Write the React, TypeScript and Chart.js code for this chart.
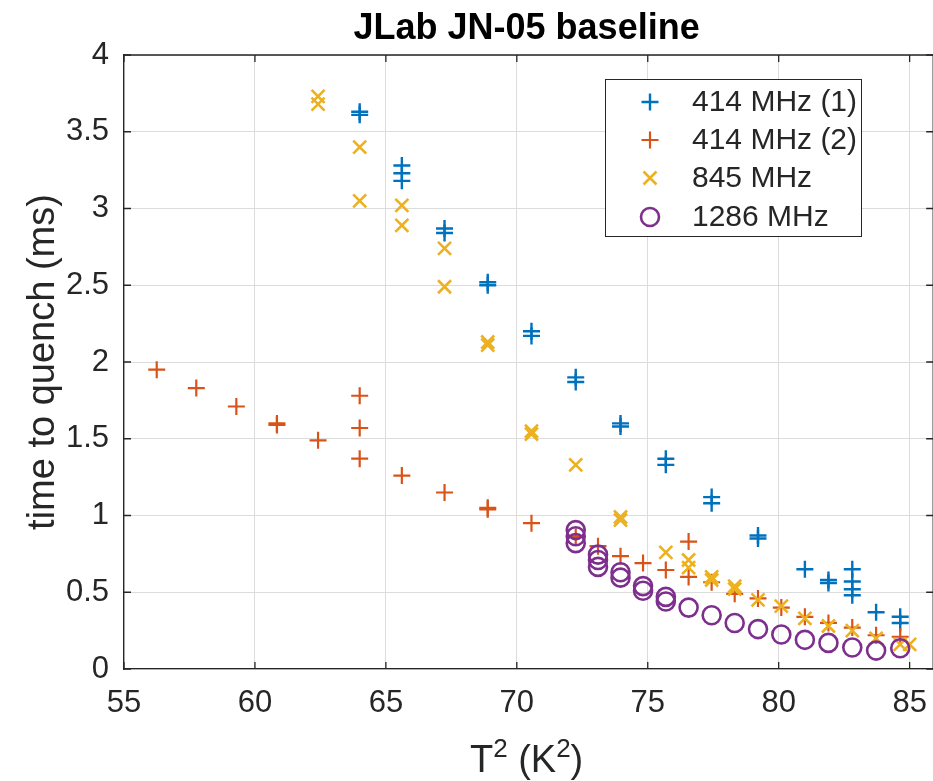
import React, { useEffect, useRef } from "react";
import { Chart, registerables } from "chart.js";

Chart.register(...registerables);

// ---------- data ----------
const chartTitle = "JLab JN-05 baseline";
const yAxisTitle = "time to quench (ms)";
const seriesLabels = ["414 MHz (1)", "414 MHz (2)", "845 MHz", "1286 MHz"];
const seriesColors = ["#0072BD", "#D95319", "#EDB120", "#7E2F8E"];

const xTicks = [55, 60, 65, 70, 75, 80, 85];
const xTickLabels = ["55", "60", "65", "70", "75", "80", "85"];
const yTicks = [0, 0.5, 1, 1.5, 2, 2.5, 3, 3.5, 4];
const yTickLabels = ["0", "0.5", "1", "1.5", "2", "2.5", "3", "3.5", "4"];

const blueX = [64.0, 64.0, 65.61, 65.61, 65.61, 67.24, 67.24, 68.89, 68.89, 70.56, 70.56, 72.25, 72.25, 73.96, 73.96, 75.69, 75.69, 77.44, 77.44, 79.21, 79.21, 81.0, 81.9, 81.9, 82.81, 82.81, 82.81, 82.81, 83.72, 84.64, 84.64];
const blueY = [3.63, 3.61, 3.28, 3.23, 3.18, 2.87, 2.84, 2.52, 2.5, 2.2, 2.17, 1.9, 1.87, 1.6, 1.58, 1.37, 1.33, 1.12, 1.08, 0.87, 0.85, 0.65, 0.58, 0.56, 0.65, 0.57, 0.52, 0.48, 0.37, 0.34, 0.3];

const orangeX = [56.25, 57.76, 59.29, 60.84, 60.84, 62.41, 64.0, 64.0, 64.0, 65.61, 67.24, 68.89, 68.89, 70.56, 72.25, 73.1, 73.96, 74.82, 75.69, 76.56, 76.56, 77.44, 78.32, 79.21, 80.1, 81.0, 81.9, 82.81, 83.72, 84.64];
const orangeY = [1.95, 1.83, 1.71, 1.6, 1.59, 1.49, 1.78, 1.57, 1.37, 1.26, 1.15, 1.05, 1.04, 0.95, 0.86, 0.8, 0.735, 0.69, 0.645, 0.83, 0.6, 0.565, 0.49, 0.46, 0.4, 0.34, 0.3, 0.27, 0.22, 0.21];

const yellowX = [62.41, 62.41, 64.0, 64.0, 65.61, 65.61, 67.24, 67.24, 68.89, 68.89, 70.56, 70.56, 72.25, 73.96, 73.96, 75.69, 76.56, 76.56, 77.44, 77.44, 78.32, 78.32, 79.21, 80.1, 81.0, 81.9, 82.81, 83.72, 84.64, 85.0];
const yellowY = [3.73, 3.68, 3.4, 3.05, 3.02, 2.89, 2.74, 2.49, 2.13, 2.11, 1.55, 1.53, 1.33, 0.99, 0.97, 0.76, 0.71, 0.66, 0.6, 0.58, 0.54, 0.52, 0.45, 0.41, 0.33, 0.28, 0.25, 0.2, 0.16, 0.16];

const purpleX = [72.25, 72.25, 72.25, 73.1, 73.1, 73.1, 73.96, 73.96, 74.82, 74.82, 75.69, 75.69, 76.56, 77.44, 78.32, 79.21, 80.1, 81.0, 81.9, 82.81, 83.72, 84.64];
const purpleY = [0.905, 0.865, 0.82, 0.745, 0.71, 0.665, 0.63, 0.595, 0.54, 0.51, 0.47, 0.44, 0.4, 0.35, 0.3, 0.26, 0.225, 0.19, 0.17, 0.14, 0.12, 0.135];

// ---------- styling ----------
const FONT = '"Liberation Sans", Arial, Helvetica, sans-serif';
const INK = "#262626";
const GRID = "#dcdcdc";

const pts = (xs: number[], ys: number[]) => xs.map((x, i) => ({ x, y: ys[i] }));

const markerStyles = ["cross", "cross", "crossRot", "circle"];
const markerRadius = [8.5, 8.5, 9.2, 9];
const markerWidth = [2.4, 2.2, 2.6, 2.6];

function drawMarker(ctx: CanvasRenderingContext2D, style: string, x: number, y: number, r: number, color: string, lw: number) {
  ctx.save();
  ctx.strokeStyle = color;
  ctx.lineWidth = lw;
  ctx.beginPath();
  if (style === "cross") {
    ctx.moveTo(x - r, y);
    ctx.lineTo(x + r, y);
    ctx.moveTo(x, y - r);
    ctx.lineTo(x, y + r);
  } else if (style === "crossRot") {
    const d = r * Math.SQRT1_2;
    ctx.moveTo(x - d, y - d);
    ctx.lineTo(x + d, y + d);
    ctx.moveTo(x - d, y + d);
    ctx.lineTo(x + d, y - d);
  } else {
    ctx.arc(x, y, r, 0, Math.PI * 2);
  }
  ctx.stroke();
  ctx.restore();
}

const decorPlugin = {
  id: "matlabDecor",
  beforeDatasetsDraw(chart: any) {
    const { ctx, chartArea: a, scales } = chart;
    ctx.save();
    ctx.strokeStyle = INK;
    ctx.lineWidth = 1.3;
    ctx.beginPath();
    ctx.moveTo(a.left, a.top);
    ctx.lineTo(a.right, a.top);
    ctx.lineTo(a.right, a.bottom);
    ctx.stroke();
    const tl = 7;
    ctx.beginPath();
    xTicks.forEach((v) => {
      const px = scales.x.getPixelForValue(v);
      ctx.moveTo(px, a.bottom);
      ctx.lineTo(px, a.bottom - tl);
      ctx.moveTo(px, a.top);
      ctx.lineTo(px, a.top + tl);
    });
    yTicks.forEach((v) => {
      const py = scales.y.getPixelForValue(v);
      ctx.moveTo(a.left, py);
      ctx.lineTo(a.left + tl, py);
      ctx.moveTo(a.right, py);
      ctx.lineTo(a.right - tl, py);
    });
    ctx.stroke();
    ctx.restore();
  },
  afterDraw(chart: any) {
    const { ctx, chartArea: a } = chart;
    const cx = (a.left + a.right) / 2 - 2;
    ctx.save();
    ctx.fillStyle = "#000";
    // title
    ctx.font = `bold 36px ${FONT}`;
    ctx.textAlign = "center";
    ctx.textBaseline = "alphabetic";
    ctx.fillText(chartTitle, cx, 39);

    // x label: T^2 (K^2)
    ctx.fillStyle = INK;
    const big = `38px ${FONT}`;
    const small = `26px ${FONT}`;
    const parts: [string, boolean][] = [["T", false], ["2", true], [" (K", false], ["2", true], [")", false]];
    let total = 0;
    parts.forEach(([t, sup]) => {
      ctx.font = sup ? small : big;
      total += ctx.measureText(t).width;
    });
    let x = cx - total / 2;
    const base = 772;
    ctx.textAlign = "left";
    parts.forEach(([t, sup]) => {
      ctx.font = sup ? small : big;
      ctx.fillText(t, x, sup ? base - 15 : base);
      x += ctx.measureText(t).width;
    });

    // y label
    ctx.save();
    ctx.translate(44, (a.top + a.bottom) / 2);
    ctx.rotate(-Math.PI / 2);
    ctx.font = big;
    ctx.textAlign = "center";
    ctx.textBaseline = "middle";
    ctx.fillText(yAxisTitle, 0, 0);
    ctx.restore();

    // legend
    const lx = 605, ly = 79, lw = 256, lh = 157;
    ctx.fillStyle = "#fff";
    ctx.fillRect(lx, ly, lw, lh);
    ctx.strokeStyle = INK;
    ctx.lineWidth = 1;
    ctx.strokeRect(lx + 0.5, ly + 0.5, lw, lh);
    const rows = [102, 140, 178, 217];
    ctx.font = `30px ${FONT}`;
    ctx.textAlign = "left";
    ctx.textBaseline = "middle";
    seriesLabels.forEach((lab, i) => {
      drawMarker(ctx, markerStyles[i], 650, rows[i], markerRadius[i], seriesColors[i], markerWidth[i]);
      ctx.fillStyle = INK;
      ctx.fillText(lab, 692, rows[i] + 1);
    });
    ctx.restore();
  },
};

export default function App() {
  const ref = useRef<HTMLCanvasElement | null>(null);

  useEffect(() => {
    if (!ref.current) return;
    const series = [pts(blueX, blueY), pts(orangeX, orangeY), pts(yellowX, yellowY), pts(purpleX, purpleY)];
    const datasets = series.map((d, i) => ({
      label: seriesLabels[i],
      data: d,
      pointStyle: markerStyles[i],
      pointRadius: markerRadius[i],
      pointHoverRadius: markerRadius[i],
      pointBorderWidth: markerWidth[i],
      borderColor: seriesColors[i],
      backgroundColor: "rgba(0,0,0,0)",
      showLine: false,
      order: 3 - i,
    }));
    const chart = new Chart(ref.current, {
      type: "scatter",
      data: { datasets: datasets as any },
      options: {
        animation: false,
        responsive: false,
        devicePixelRatio: 1,
        layout: { padding: { top: 55, right: 11, left: 0, bottom: 0 } },
        plugins: {
          legend: { display: false },
          tooltip: { enabled: false },
          title: { display: false },
        },
        scales: {
          x: {
            type: "linear",
            min: 55,
            max: 85.9,
            grid: { color: GRID, drawTicks: false, lineWidth: 1 },
            border: { color: INK, width: 1.3 },
            ticks: {
              color: INK,
              font: { family: FONT, size: 31 },
              padding: 16,
              maxRotation: 0,
              callback: (v: any) => {
                const i = xTicks.indexOf(Number(v));
                return i >= 0 ? xTickLabels[i] : "";
              },
            },
            afterBuildTicks: (s: any) => {
              s.ticks = xTicks.map((v) => ({ value: v }));
            },
            afterFit: (s: any) => {
              s.height = 112;
            },
          },
          y: {
            type: "linear",
            min: 0,
            max: 4,
            grid: { color: GRID, drawTicks: false, lineWidth: 1 },
            border: { color: INK, width: 1.3 },
            ticks: {
              color: INK,
              font: { family: FONT, size: 31 },
              padding: 15,
              callback: (v: any) => {
                const i = yTicks.indexOf(Number(v));
                return i >= 0 ? yTickLabels[i] : "";
              },
            },
            afterBuildTicks: (s: any) => {
              s.ticks = yTicks.map((v) => ({ value: v }));
            },
            afterFit: (s: any) => {
              s.width = 124;
            },
          },
        },
      },
      plugins: [decorPlugin],
    });
    return () => chart.destroy();
  }, []);

  return (
    <div style={{ position: "fixed", left: 0, top: 0, width: 933, height: 781, overflow: "hidden", background: "#fff" }}>
      <canvas ref={ref} width={945} height={781} style={{ display: "block", width: 945, height: 781 }} />
    </div>
  );
}
